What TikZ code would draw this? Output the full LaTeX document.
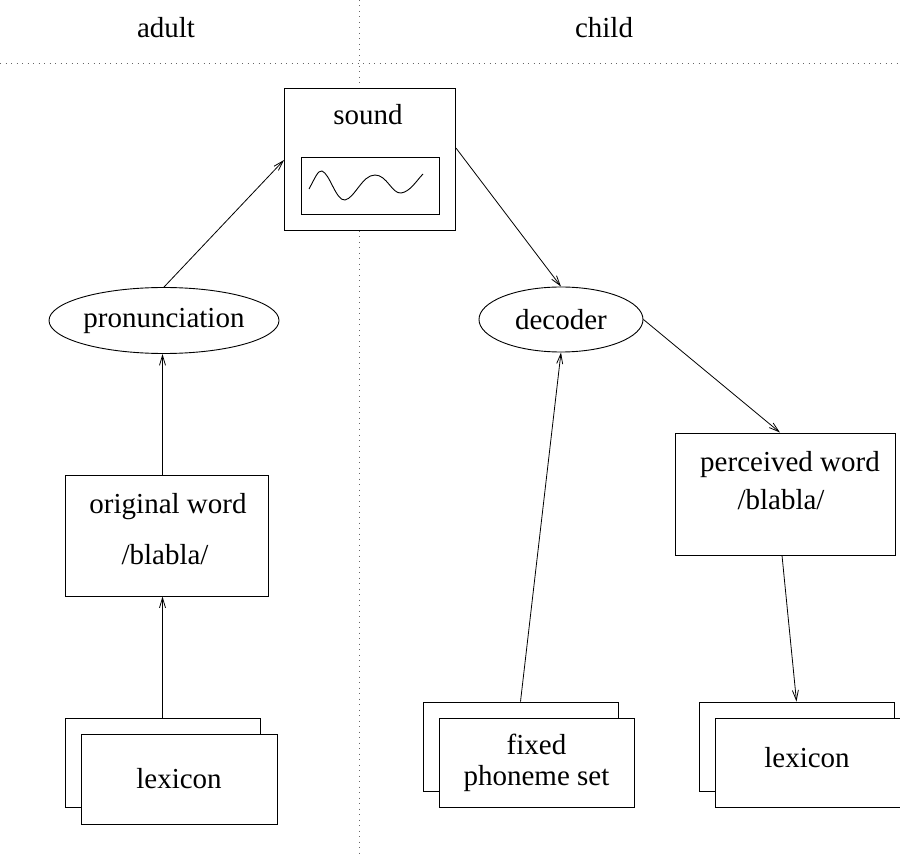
\documentclass[tikz,border=0pt]{standalone}
\usepackage{fontspec}
\setmainfont{Liberation Serif}
\usetikzlibrary{arrows.meta,shapes.geometric}
\begin{document}
\begin{tikzpicture}[x=1pt,y=-1pt,
  every node/.style={font=\fontsize{29}{34}\selectfont, inner sep=0pt},
  box/.style={draw, line width=0.9pt, fill=white},
  oval/.style={draw, ellipse, line width=0.9pt},
  sep/.style={line width=0.9pt, dash pattern=on 1pt off 4.5pt, gray!80!black},
  arr/.style={line width=0.8pt, -{Straight Barb[length=10pt,width=6pt,line width=0.8pt]}}]
\useasboundingbox (0,0) rectangle (900,858);
% separators
\draw[sep] (359,0) coordinate (vt) -- (359,858) coordinate (vb);
\draw[sep] (0,63) coordinate (hl) -- (900,63) coordinate (hr);
\node (adult) at (166,28) {adult};
\node (child) at (604,28) {child};
% sound
\node[box, minimum width=171, minimum height=142] (sound) at (370,159) {};
\node (soundt) at (368,115) {sound};
\node[box, minimum width=138, minimum height=57] (wavebox) at (370,185.5) {};
\draw[line width=0.9pt] (309,189) .. controls (315,178) and (318,170) .. (322,171)
  .. controls (330,174) and (336,201) .. (345,200)
  .. controls (355,198) and (362,175) .. (375,175)
  .. controls (387,175) and (392,194) .. (401,193)
  .. controls (410,192) and (417,180) .. (423,174);
% ellipses
\node[oval, minimum width=230, minimum height=66] (pron) at (164,320.5) {pronunciation};
\node[oval, minimum width=164, minimum height=65] (dec) at (561,319.5) {decoder};
% word boxes
\node[box, minimum width=203, minimum height=121] (orig) at (166.5,535.5) {};
\node (origt1) at (168,507) {original word};
\node (origt2) at (165,555) {/blabla/};
\node[box, minimum width=220, minimum height=122] (perc) at (785,494) {};
\node (perct1) at (790,465) {perceived word};
\node (perct2) at (781,500) {/blabla/};
% stacks
\node[box, minimum width=195, minimum height=89] (lexLb) at (162.5,762.5) {};
\node[box, minimum width=196, minimum height=90] (lexLf) at (179,779) {lexicon};
\node[box, minimum width=195, minimum height=89] (fixb) at (520.5,746.5) {};
\node[box, minimum width=195, minimum height=89, align=center, font=\fontsize{29}{31}\selectfont] (fixf) at (536.5,762.5) {fixed\\phoneme set};
\node[box, minimum width=195, minimum height=89] (lexRb) at (796.5,746.5) {};
\node[box, minimum width=195, minimum height=89] (lexRf) at (812.5,762.5) {};
\node (lexRt) at (807,758) {lexicon};
% arrows
\draw[arr] (lexLb.north) -- (lexLb.north |- orig.south);
\draw[arr] (lexLb.north |- orig.north) -- (lexLb.north |- pron.south);
\draw[arr] (pron.north) -- ([yshift=-1pt]sound.west);
\draw[arr] ([yshift=11pt]sound.east) -- (dec.north);
\draw[arr] (dec.east) -- ([xshift=-5pt]perc.north);
\draw[arr] (fixb.north) -- (dec.south);
\draw[arr] ([xshift=-3pt]perc.south) -- (lexRb.north);
\end{tikzpicture}
\end{document}
